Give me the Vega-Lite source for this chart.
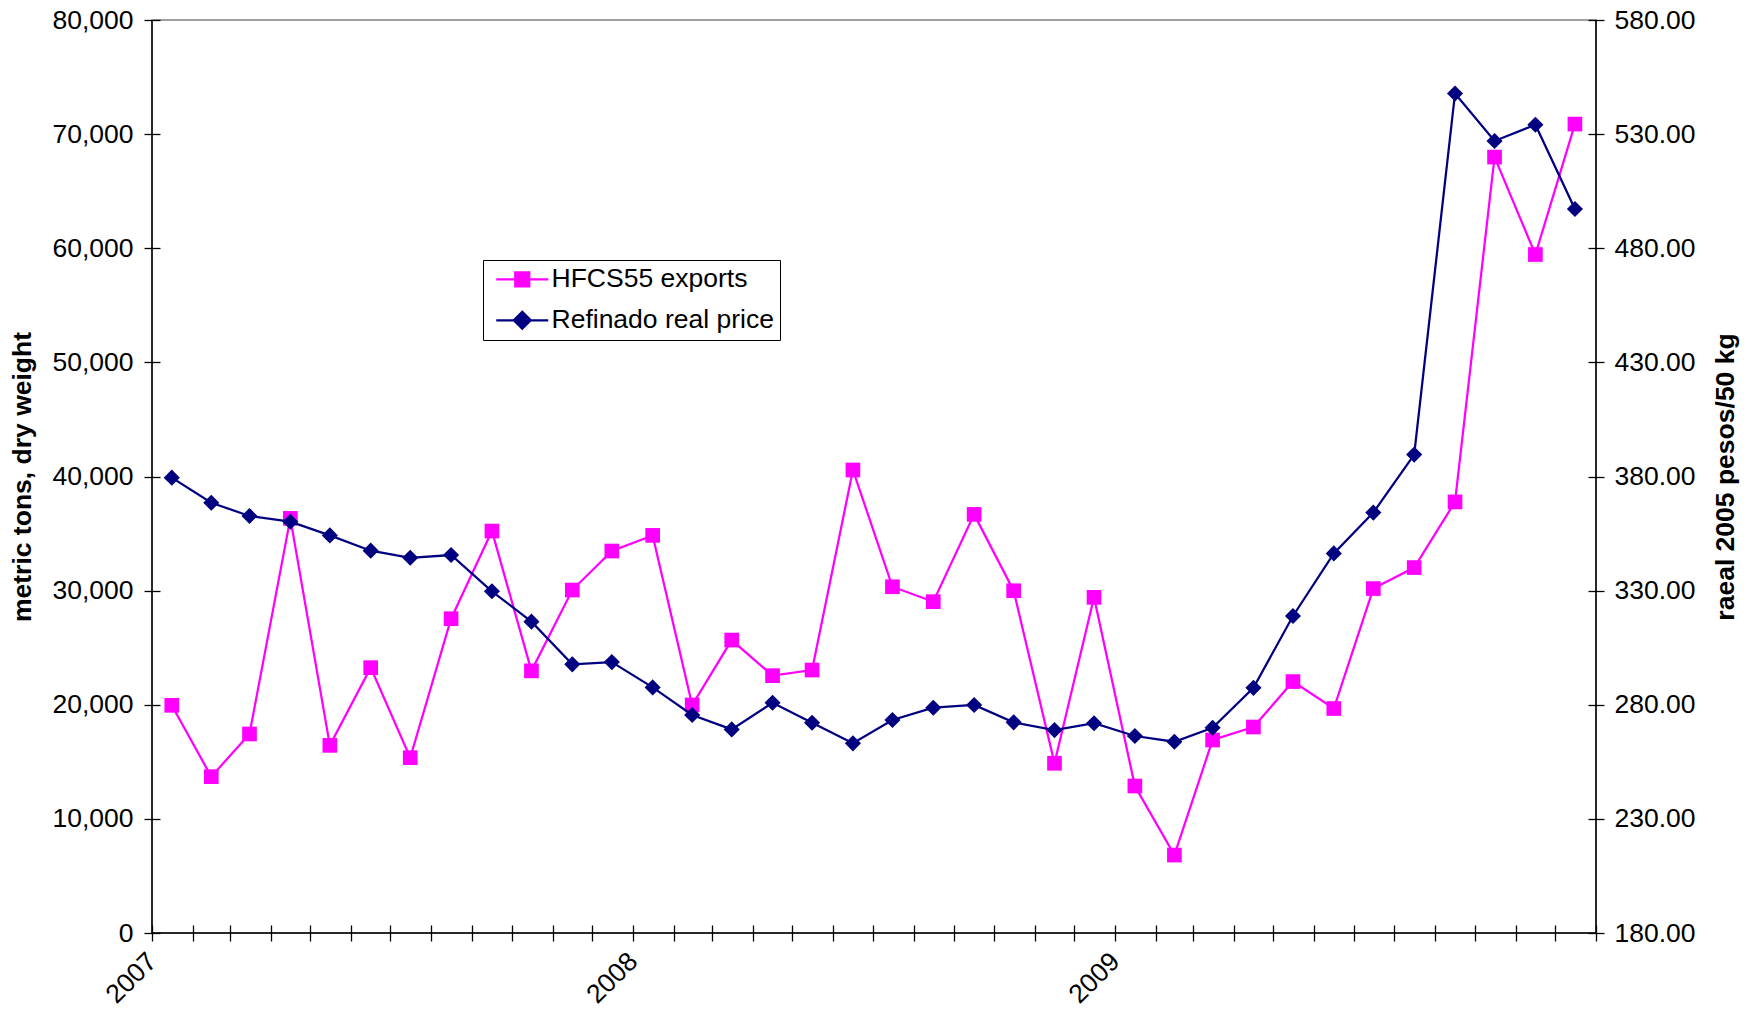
{
  "$schema": "https://vega.github.io/schema/vega-lite/v6.json",
  "width": 1444,
  "height": 913,
  "autosize": {"type": "none"},
  "padding": {"left": 152, "top": 20, "right": 157, "bottom": 90},
  "background": "white",
  "config": {
    "view": {"stroke": "#808080", "strokeWidth": 1.5},
    "font": "Liberation Sans",
    "axis": {
      "labelFont": "Liberation Sans",
      "labelFontSize": 26.5,
      "labelColor": "#000",
      "tickColor": "#000",
      "tickWidth": 1.3,
      "grid": false,
      "titleFont": "Liberation Sans",
      "titleFontSize": 26.5,
      "titleFontWeight": "bold",
      "titleColor": "#000"
    }
  },
  "data": {
    "values": [
      {"date": "2007-01-16", "hfcs": 19950, "price": 379.5},
      {"date": "2007-02-15", "hfcs": 13700, "price": 368.5},
      {"date": "2007-03-16", "hfcs": 17440, "price": 362.7},
      {"date": "2007-04-16", "hfcs": 36330, "price": 360.2},
      {"date": "2007-05-16", "hfcs": 16440, "price": 354.2},
      {"date": "2007-06-16", "hfcs": 23250, "price": 347.5},
      {"date": "2007-07-16", "hfcs": 15360, "price": 344.4},
      {"date": "2007-08-16", "hfcs": 27540, "price": 345.6},
      {"date": "2007-09-16", "hfcs": 35220, "price": 329.7},
      {"date": "2007-10-16", "hfcs": 22970, "price": 316.4},
      {"date": "2007-11-16", "hfcs": 30050, "price": 297.7},
      {"date": "2007-12-16", "hfcs": 33470, "price": 298.7},
      {"date": "2008-01-16", "hfcs": 34840, "price": 287.6},
      {"date": "2008-02-15", "hfcs": 19980, "price": 275.5},
      {"date": "2008-03-16", "hfcs": 25670, "price": 269.2},
      {"date": "2008-04-16", "hfcs": 22550, "price": 280.9},
      {"date": "2008-05-16", "hfcs": 23040, "price": 272.1},
      {"date": "2008-06-16", "hfcs": 40570, "price": 263.1},
      {"date": "2008-07-16", "hfcs": 30340, "price": 273.3},
      {"date": "2008-08-16", "hfcs": 29030, "price": 278.7},
      {"date": "2008-09-16", "hfcs": 36680, "price": 279.9},
      {"date": "2008-10-16", "hfcs": 29990, "price": 272.3},
      {"date": "2008-11-16", "hfcs": 14870, "price": 268.9},
      {"date": "2008-12-16", "hfcs": 29410, "price": 271.9},
      {"date": "2009-01-16", "hfcs": 12880, "price": 266.3},
      {"date": "2009-02-15", "hfcs": 6830, "price": 263.8},
      {"date": "2009-03-16", "hfcs": 16910, "price": 269.9},
      {"date": "2009-04-16", "hfcs": 18050, "price": 287.4},
      {"date": "2009-05-16", "hfcs": 22030, "price": 318.9},
      {"date": "2009-06-16", "hfcs": 19670, "price": 346.3},
      {"date": "2009-07-16", "hfcs": 30180, "price": 364.2},
      {"date": "2009-08-16", "hfcs": 32020, "price": 389.6},
      {"date": "2009-09-16", "hfcs": 37770, "price": 547.8},
      {"date": "2009-10-16", "hfcs": 67990, "price": 527.0},
      {"date": "2009-11-16", "hfcs": 59450, "price": 534.1},
      {"date": "2009-12-16", "hfcs": 70880, "price": 497.2}
    ]
  },
  "layer": [
    {
      "layer": [
        {
          "mark": {"type": "line", "strokeWidth": 2.25, "point": {"shape": "square", "size": 215, "filled": true}},
          "encoding": {
            "x": {
              "field": "date",
              "type": "temporal",
              "scale": {"type": "utc", "domain": [{"year": 2007, "month": 1, "date": 1, "utc": true}, {"year": 2010, "month": 1, "date": 1, "utc": true}]},
              "axis": {
                "title": null,
                "orient": "bottom",
                "tickCount": {"interval": "month", "step": 1},
                "labelExpr": "utcmonth(datum.value) == 0 && utcyear(datum.value) < 2010 ? utcFormat(datum.value, '%Y') : ''",
                "labelAngle": -45,
                "labelAlign": "right",
                "labelBaseline": "middle",
                "labelPadding": 16,
                "labelOverlap": false,
                "labelFlush": false,
                "labelBound": false,
                "offset": -8,
                "tickSize": 16,
                "domain": false
              }
            },
            "y": {
              "field": "hfcs",
              "type": "quantitative",
              "scale": {"domain": [0, 80000], "nice": false},
              "axis": {
                "title": "metric tons, dry weight",
                "values": [0, 10000, 20000, 30000, 40000, 50000, 60000, 70000, 80000],
                "format": ",.0f",
                "offset": -8,
                "tickSize": 16,
                "domain": false,
                "labelPadding": 11,
                "titleAngle": -90,
                "titleX": -138,
                "titleY": 456.5,
                "titleAlign": "center",
                "titleBaseline": "middle"
              }
            },
            "color": {
              "datum": "HFCS55 exports",
              "type": "nominal",
              "scale": {"domain": ["HFCS55 exports", "Refinado real price"], "range": ["#FF00FF", "#000080"]},
              "legend": {
                "title": null,
                "orient": "none",
                "legendX": 331,
                "legendY": 240,
                "strokeColor": "#000",
                "fillColor": "white",
                "padding": 6,
                "labelFont": "Liberation Sans",
                "labelFontSize": 26.5,
                "labelColor": "#000",
                "labelLimit": 500,
                "symbolSize": 400,
                "symbolOffset": 20,
                "symbolStrokeWidth": 2.25,
                "labelOffset": 16,
                "rowPadding": 14,
                "encode": {
                  "symbols": {
                    "update": {
                      "shape": {"signal": "datum.value == 'HFCS55 exports' ? 'M-2.6,0H2.6M-0.7,-0.7H0.7V0.7H-0.7Z' : 'M-2.6,0H2.6M0,-0.85L0.85,0L0,0.85L-0.85,0Z'"},
                      "fill": {"signal": "datum.value == 'HFCS55 exports' ? '#FF00FF' : '#000080'"},
                      "stroke": {"signal": "datum.value == 'HFCS55 exports' ? '#FF00FF' : '#000080'"}
                    }
                  }
                }
              }
            }
          }
        },
        {
          "data": {"values": [{}]},
          "mark": {"type": "rule", "color": "#000", "strokeWidth": 1.5},
          "encoding": {"x": {"datum": {"year": 2007, "month": 1, "date": 1, "utc": true}, "type": "temporal"}}
        },
        {
          "data": {"values": [{}]},
          "mark": {"type": "rule", "color": "#000", "strokeWidth": 1.5},
          "encoding": {"y": {"datum": 0, "type": "quantitative"}}
        }
      ]
    },
    {
      "layer": [
        {
          "mark": {"type": "line", "strokeWidth": 2.25, "point": {"shape": "diamond", "size": 260, "filled": true}},
          "encoding": {
            "x": {"field": "date", "type": "temporal"},
            "y": {
              "field": "price",
              "type": "quantitative",
              "scale": {"domain": [180, 580], "nice": false, "zero": false},
              "axis": {
                "orient": "right",
                "title": "raeal 2005 pesos/50 kg",
                "values": [180, 230, 280, 330, 380, 430, 480, 530, 580],
                "format": ".2f",
                "offset": -8,
                "tickSize": 16,
                "domain": false,
                "labelPadding": 10,
                "titleAngle": -90,
                "titleX": 137,
                "titleY": 456.5,
                "titleAlign": "center",
                "titleBaseline": "middle"
              }
            },
            "color": {"datum": "Refinado real price", "type": "nominal"}
          }
        },
        {
          "data": {"values": [{}]},
          "mark": {"type": "rule", "color": "#000", "strokeWidth": 1.5},
          "encoding": {"x": {"datum": {"year": 2010, "month": 1, "date": 1, "utc": true}, "type": "temporal"}}
        }
      ]
    }
  ],
  "resolve": {"scale": {"y": "independent"}}
}
